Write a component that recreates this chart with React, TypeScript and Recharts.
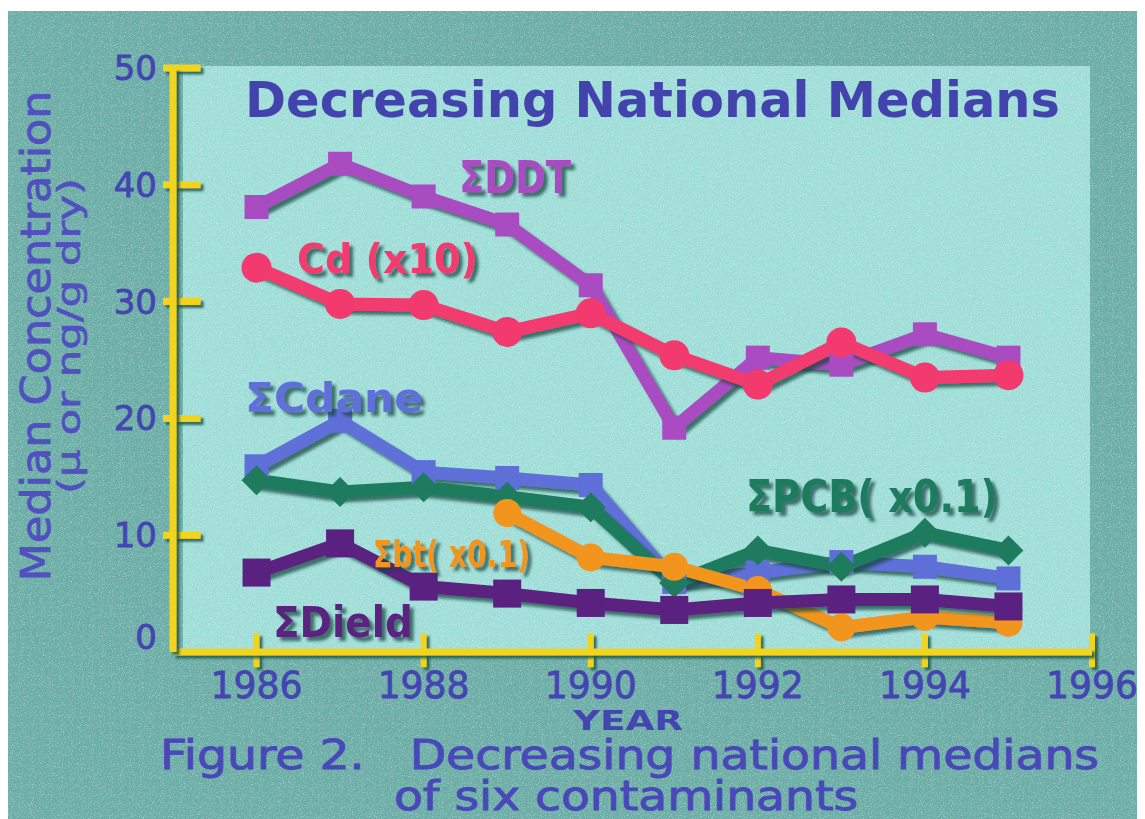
import React from 'react';
import { LineChart, Line, XAxis, YAxis, ReferenceLine } from 'recharts';

const years = [1986, 1987, 1988, 1989, 1990, 1991, 1992, 1993, 1994, 1995];
const ddt = [38.1, 41.8, 39.0, 36.6, 31.4, 19.2, 25.2, 24.6, 27.2, 25.2];
const cd = [32.9, 29.8, 29.7, 27.4, 29.0, 25.4, 22.9, 26.5, 23.5, 23.7];
const cdane = [15.9, 19.8, 15.4, 14.9, 14.3, 6.0, 6.8, 7.7, 7.3, 6.3];
const pcb = [14.7, 13.7, 14.1, 13.3, 12.4, 5.9, 8.7, 7.3, 10.2, 8.7];
const dield = [6.8, 9.3, 5.6, 5.0, 4.2, 3.6, 4.2, 4.5, 4.5, 3.9];
const bt = [null, null, null, 11.9, 8.1, 7.3, 5.3, 2.1, 3.0, 2.5];

const xTicks = [1986, 1988, 1990, 1992, 1994, 1996];
const yTicks = [0, 10, 20, 30, 40, 50];

const data = years.map((year, i) => ({
  year,
  ddt: ddt[i],
  cd: cd[i],
  cdane: cdane[i],
  pcb: pcb[i],
  dield: dield[i],
  bt: bt[i],
}));

const YELLOW = '#f2d41f';
const TEXT = '#4545b2';

function makeDot(shape: string, color: string, size: number) {
  return (props: any) => {
    const { cx, cy, index } = props;
    if (cx == null || cy == null || props.value == null) return <g key={`n${index}`} />;
    const h = size / 2;
    if (shape === 'circle') {
      return <circle key={`d${index}`} cx={cx} cy={cy} r={h} fill={color} />;
    }
    if (shape === 'diamond') {
      return (
        <polygon
          key={`d${index}`}
          points={`${cx},${cy - h} ${cx + h},${cy} ${cx},${cy + h} ${cx - h},${cy}`}
          fill={color}
        />
      );
    }
    return <rect key={`d${index}`} x={cx - h} y={cy - h} width={size} height={size} fill={color} />;
  };
}

const XTick = (props: any) => {
  const { x, y, payload } = props;
  return (
    <text
      x={x}
      y={y + 46}
      textAnchor="middle"
      fill={TEXT}
      stroke={TEXT}
      strokeWidth={0.8}
      fontSize={38}
      fontFamily="'DejaVu Sans', sans-serif"
      textLength={92}
      lengthAdjust="spacingAndGlyphs"
    >
      {payload.value}
    </text>
  );
};

const YTick = (props: any) => {
  const { x, y, payload } = props;
  const dy = payload.value === 0 ? -3 : 12;
  return (
    <text
      x={x - 16}
      y={y + dy}
      textAnchor="end"
      fill={TEXT}
      stroke={TEXT}
      strokeWidth={0.8}
      fontSize={34}
      fontFamily="'DejaVu Sans', sans-serif"
    >
      {payload.value}
    </text>
  );
};

const series = [
  { key: 'ddt', color: '#a94cc1', shape: 'square', size: 24 },
  { key: 'cd', color: '#f23a6e', shape: 'circle', size: 30 },
  { key: 'cdane', color: '#5f6fd8', shape: 'square', size: 24 },
  { key: 'pcb', color: '#1f7b5d', shape: 'diamond', size: 30 },
  { key: 'bt', color: '#f2951f', shape: 'circle', size: 28 },
  { key: 'dield', color: '#5b2180', shape: 'square', size: 28 },
];

const labelFont = "'DejaVu Sans', sans-serif";

export default function App() {
  return (
    <div
      style={{
        position: 'relative',
        width: 1138,
        height: 808,
        marginTop: 3,
        marginLeft: -1,
        overflow: 'hidden',
        background: '#70b1aa',
      }}
    >
      <style>{`
        html, body { overflow: hidden; }
        .recharts-line { filter: url(#ds); }
        .recharts-cartesian-axis-line, .recharts-reference-line-line { filter: url(#dsu); }
      `}</style>
      <svg width={1138} height={808} style={{ position: 'absolute', left: 0, top: 0 }}>
        <defs>
          <filter id="ds" x="-10%" y="-10%" width="130%" height="130%">
            <feDropShadow dx="4" dy="4" stdDeviation="1.6" floodColor="#17433d" floodOpacity="0.7" />
          </filter>
          <filter id="dsu" filterUnits="userSpaceOnUse" x="0" y="0" width="1138" height="808">
            <feDropShadow dx="3" dy="3" stdDeviation="0.8" floodColor="#1c5a4c" floodOpacity="0.85" />
          </filter>
          <filter id="noiseL" x="0" y="0" width="100%" height="100%">
            <feTurbulence type="fractalNoise" baseFrequency="0.9" numOctaves="2" seed="3" />
            <feColorMatrix type="matrix" values="0 0 0 0 0.85  0 0 0 0 1  0 0 0 0 1  2.2 0 0 0 -1.1" />
          </filter>
          <filter id="noiseD" x="0" y="0" width="100%" height="100%">
            <feTurbulence type="fractalNoise" baseFrequency="0.9" numOctaves="2" seed="7" />
            <feColorMatrix type="matrix" values="0 0 0 0 0.25  0 0 0 0 0.45  0 0 0 0 0.5  2.2 0 0 0 -1.1" />
          </filter>
        </defs>
        <rect x={0} y={0} width={1138} height={808} fill="#6cada6" />
        <rect x={176} y={55} width={907} height={588} fill="#a1dfd9" />
        <rect x={0} y={0} width={1138} height={808} filter="url(#noiseL)" opacity={0.55} />
        <rect x={0} y={0} width={1138} height={808} filter="url(#noiseD)" opacity={0.35} />
      </svg>
      <div style={{ position: 'absolute', left: 0, top: 0 }}>
        <LineChart
          width={1138}
          height={808}
          data={data}
          margin={{ top: 57, right: 53, left: 106, bottom: 107 }}
        >
          <XAxis
            dataKey="year"
            type="number"
            domain={[1985, 1996]}
            ticks={xTicks}
            tick={<XTick />}
            tickLine={false}
            tickSize={0}
            tickMargin={0}
            height={60}
            axisLine={{ stroke: YELLOW, strokeWidth: 7 }}
            allowDataOverflow
          />
          <YAxis
            type="number"
            domain={[0, 50]}
            ticks={yTicks}
            tick={<YTick />}
            tickLine={false}
            tickSize={0}
            tickMargin={0}
            width={60}
            axisLine={{ stroke: YELLOW, strokeWidth: 7 }}
            allowDataOverflow
          />
          {yTicks.filter((v) => v > 0).map((v) => (
            <ReferenceLine
              key={`yt${v}`}
              segment={[{ x: 1984.88, y: v }, { x: 1985.33, y: v }]}
              stroke={YELLOW}
              strokeWidth={7}
              ifOverflow="visible"
            />
          ))}
          {xTicks.map((v) => (
            <ReferenceLine
              key={`xt${v}`}
              segment={[{ x: v, y: -1.3 }, { x: v, y: 1.6 }]}
              stroke={YELLOW}
              strokeWidth={6}
              ifOverflow="visible"
            />
          ))}
          {series.map((s) => (
            <Line
              key={s.key}
              dataKey={s.key}
              stroke={s.color}
              strokeWidth={13}
              strokeLinejoin="round"
              dot={makeDot(s.shape, s.color, s.size)}
              activeDot={false}
              isAnimationActive={false}
              connectNulls={false}
            />
          ))}
        </LineChart>
      </div>
      <svg
        width={1138}
        height={808}
        style={{ position: 'absolute', left: 0, top: 0, pointerEvents: 'none' }}
      >
        <g style={{ filter: 'url(#ds)' }}>
          <text x={452} y={182} fill="#a94cc1" fontSize={44} fontWeight="bold" fontFamily={labelFont} textLength={112} lengthAdjust="spacingAndGlyphs">ΣDDT</text>
          <text x={290} y={262} fill="#f23a6e" fontSize={41} fontWeight="bold" fontFamily={labelFont} textLength={181} lengthAdjust="spacingAndGlyphs">Cd (x10)</text>
          <text x={238} y={401} fill="#5f6fd8" fontSize={40} fontWeight="bold" fontFamily={labelFont} textLength={178} lengthAdjust="spacingAndGlyphs">ΣCdane</text>
          <text x={739} y={501} fill="#1f7b5d" fontSize={44} fontWeight="bold" fontFamily={labelFont} textLength={252} lengthAdjust="spacingAndGlyphs">ΣPCB( x0.1)</text>
          <text x={366} y={556} fill="#f2951f" fontSize={38} fontWeight="bold" fontFamily={labelFont} textLength={157} lengthAdjust="spacingAndGlyphs">Σbt( x0.1)</text>
          <text x={266} y={626} fill="#5b2180" fontSize={42} fontWeight="bold" fontFamily={labelFont} textLength={140} lengthAdjust="spacingAndGlyphs">ΣDield</text>
        </g>
        <text x={238} y={106} fill="#4343ad" fontSize={50} fontWeight="bold" fontFamily={labelFont} textLength={815} lengthAdjust="spacingAndGlyphs">Decreasing National Medians</text>
        <text
          x={43}
          y={325}
          transform="rotate(-90 43 325)"
          textAnchor="middle"
          fill="#5150bf"
          stroke="#5150bf"
          strokeWidth={0.8}
          fontSize={41}
          fontFamily={labelFont}
          textLength={491}
          lengthAdjust="spacingAndGlyphs"
        >
          Median Concentration
        </text>
        <text
          x={73}
          y={325}
          transform="rotate(-90 73 325)"
          textAnchor="middle"
          fill="#5150bf"
          stroke="#5150bf"
          strokeWidth={0.6}
          fontSize={32}
          fontFamily={labelFont}
          textLength={316}
          lengthAdjust="spacingAndGlyphs"
        >
          (μ or ng/g dry)
        </text>
        <text x={566} y={719} fill={TEXT} fontSize={26} fontWeight="bold" fontFamily={labelFont} textLength={110} lengthAdjust="spacingAndGlyphs">YEAR</text>
        <text x={153} y={758} fill="#4848b8" stroke="#4848b8" strokeWidth={0.9} fontSize={41} fontFamily={labelFont} textLength={939} lengthAdjust="spacingAndGlyphs" style={{ whiteSpace: 'pre' }}>Figure 2.   Decreasing national medians</text>
        <text x={387} y={799} fill="#4848b8" stroke="#4848b8" strokeWidth={0.9} fontSize={40} fontFamily={labelFont} textLength={464} lengthAdjust="spacingAndGlyphs">of six contaminants</text>
      </svg>
    </div>
  );
}
